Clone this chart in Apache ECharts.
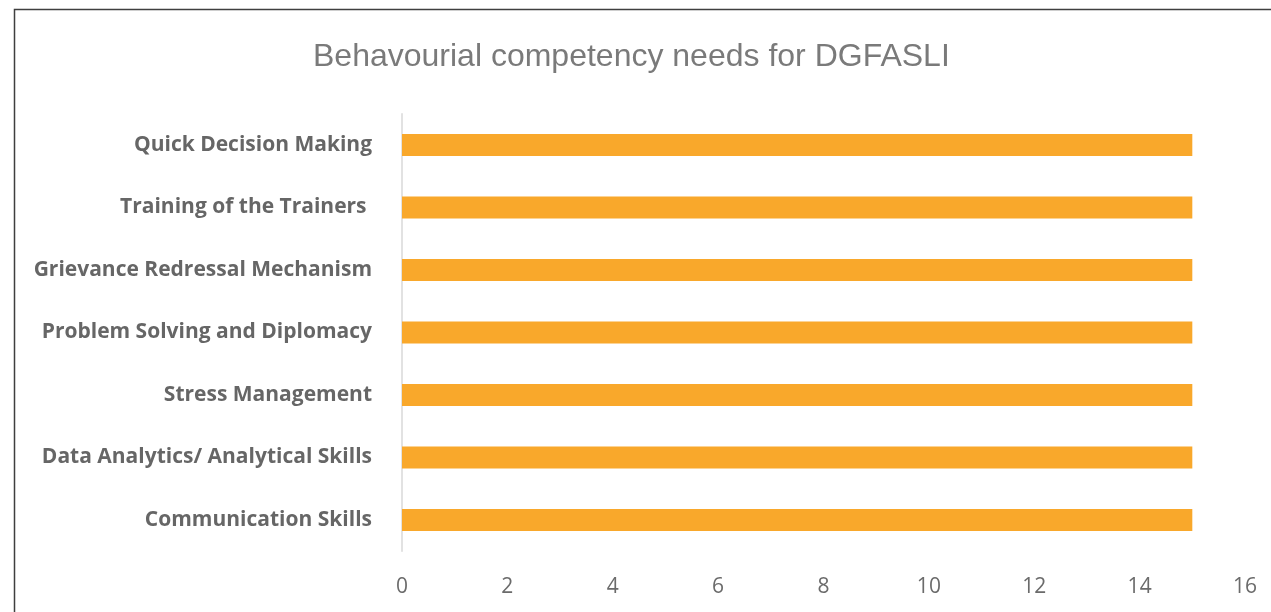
<!DOCTYPE html>
<html>
<head>
<meta charset="utf-8">
<script src="https://cdn.jsdelivr.net/npm/echarts@6/dist/echarts.min.js"></script>
<style>
  html, body { margin: 0; padding: 0; background: #ffffff; }
  #chart { width: 1271px; height: 612px; }
</style>
</head>
<body>
<div id="chart"></div>
<script>
// Competency areas, listed bottom to top
const categories = [
  'Communication Skills',
  'Data Analytics/ Analytical Skills',
  'Stress Management',
  'Problem Solving and Diplomacy',
  'Grievance Redressal Mechanism',
  'Training of the Trainers ',
  'Quick Decision Making'
];
const needCounts = [15, 15, 15, 15, 15, 15, 15];
const chartTitle = 'Behavourial competency needs for DGFASLI';

const chart = echarts.init(document.getElementById('chart'), null, { renderer: 'canvas' });

chart.setOption({
  animation: false,
  backgroundColor: '#ffffff',
  title: {
    text: chartTitle,
    left: 308,
    top: 36,
    textStyle: {
      fontFamily: 'Liberation Sans, Arial, sans-serif',
      fontSize: 32,
      fontWeight: 'normal',
      color: '#7a7a7a'
    }
  },
  graphic: [{
    type: 'rect',
    silent: true,
    z: -1,
    shape: { x: 14.5, y: 9.5, width: 1400, height: 800 },
    style: { fill: 'none', stroke: '#3f3f3f', lineWidth: 1.5 }
  }],
  grid: {
    left: 402,
    top: 113.75,
    width: 843,
    height: 437.5,
    containLabel: false
  },
  xAxis: {
    type: 'value',
    min: 0,
    max: 16,
    interval: 2,
    axisLine: { show: false },
    axisTick: { show: false },
    splitLine: { show: false },
    axisLabel: {
      margin: 25,
      fontFamily: 'Open Sans, sans-serif',
      fontSize: 21,
      color: '#6b6b6b'
    }
  },
  yAxis: {
    type: 'category',
    data: categories,
    axisLine: { show: true, lineStyle: { color: '#d9d9d9', width: 1.5 } },
    axisTick: { show: false },
    splitLine: { show: false },
    axisLabel: {
      margin: 30,
      fontFamily: 'Open Sans, sans-serif',
      fontSize: 21,
      fontWeight: 'bold',
      color: '#666666'
    }
  },
  series: [{
    type: 'bar',
    data: needCounts,
    barWidth: 22,
    itemStyle: { color: '#F9A82B' }
  }]
});
</script>
</body>
</html>
